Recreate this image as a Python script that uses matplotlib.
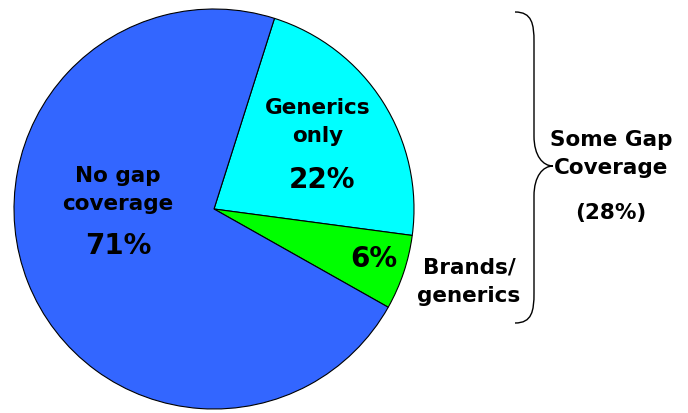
import matplotlib
matplotlib.use("Agg")
import matplotlib.pyplot as plt
from matplotlib.path import Path
from matplotlib.patches import PathPatch

labels = ["Generics\nonly", "Brands/\ngenerics", "No gap\ncoverage"]
values = [22, 6, 71]
colors = ["#00FFFF", "#00FF00", "#3366FF"]
pct_text = ["22%", "6%", "71%"]
bracket_text = "Some Gap\nCoverage"
bracket_pct = "(28%)"

W, H = 688, 413
fig = plt.figure(figsize=(W / 100, H / 100), dpi=100)
ax = fig.add_axes([0, 0, 1, 1])

# pie in pixel coordinates (y measured from bottom)
cx, cy, r = 214, H - 209, 200
ax.pie(values, colors=colors, startangle=72.4, counterclock=False,
       center=(cx, cy), radius=r, frame=True,
       wedgeprops=dict(edgecolor="black", linewidth=0.8))

ax.set_xlim(0, W)
ax.set_ylim(0, H)
ax.set_aspect("equal")
ax.axis("off")

font = dict(family="DejaVu Sans", weight="bold", ha="center", va="center")
lab_size = 15.5
pct_size = 20
ls = 1.55

# labels inside slices
ax.text(318, H - 122, labels[0], fontsize=lab_size, linespacing=ls, **font)
ax.text(322, H - 180, pct_text[0], fontsize=pct_size, **font)
ax.text(374, H - 259, pct_text[1], fontsize=pct_size, **font)
ax.text(118, H - 190, labels[2], fontsize=lab_size, linespacing=ls, **font)
ax.text(118, H - 246, pct_text[2], fontsize=pct_size, **font)

# outside label for small slice
ax.text(469, H - 282, labels[1], fontsize=lab_size, linespacing=ls, **font)

# curly brace
top, tip, bot = 12, 166, 323
xe, xl, xt = 515, 534, 553
verts = [
    (xe, H - top),
    (xl - 2, H - top), (xl, H - (top + 12)), (xl, H - (top + 30)),
    (xl, H - (tip - 30)),
    (xl, H - (tip - 10)), (xt - 10, H - tip), (xt, H - tip),
    (xt - 10, H - tip), (xl, H - (tip + 10)), (xl, H - (tip + 30)),
    (xl, H - (bot - 30)),
    (xl, H - (bot - 12)), (xl - 2, H - bot), (xe, H - bot),
]
codes = [Path.MOVETO,
         Path.CURVE4, Path.CURVE4, Path.CURVE4,
         Path.LINETO,
         Path.CURVE4, Path.CURVE4, Path.CURVE4,
         Path.CURVE4, Path.CURVE4, Path.CURVE4,
         Path.LINETO,
         Path.CURVE4, Path.CURVE4, Path.CURVE4]
ax.add_patch(PathPatch(Path(verts, codes), facecolor="none",
                       edgecolor="black", linewidth=1.0))

ax.text(611, H - 154, bracket_text, fontsize=lab_size, linespacing=ls, **font)
ax.text(611, H - 213, bracket_pct, fontsize=lab_size, **font)

fig.savefig("out.png", dpi=100, facecolor="white")
